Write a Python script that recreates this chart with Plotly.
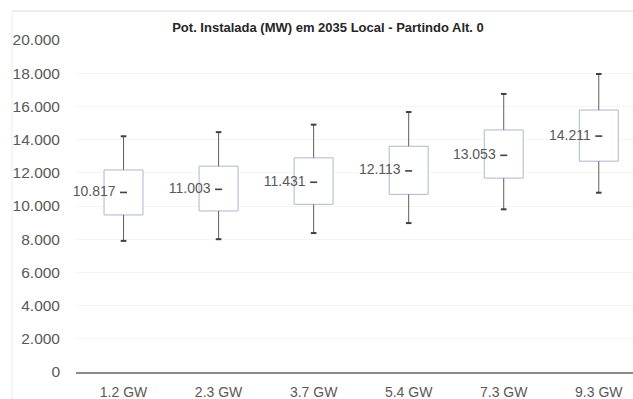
import plotly.graph_objects as go

# Scenario categories (installed capacity) and box statistics, in MW
categories = ["1.2 GW", "2.3 GW", "3.7 GW", "5.4 GW", "7.3 GW", "9.3 GW"]
lower_whisker = [7900, 8000, 8370, 8970, 9800, 10800]
q1 = [9460, 9700, 10100, 10700, 11680, 12700]
q3 = [12170, 12400, 12900, 13600, 14580, 15780]
upper_whisker = [14200, 14450, 14900, 15660, 16750, 17950]
means = [10817, 11003, 11431, 12113, 13053, 14211]

y_ticks = [0, 2000, 4000, 6000, 8000, 10000, 12000, 14000, 16000, 18000, 20000]


def fmt_pt(v):
    """Thousands separator with a dot, as in pt-BR."""
    return f"{v:,.0f}".replace(",", ".")


TEXT = "#595959"
FONT = "Liberation Sans, Arial, sans-serif"
WHISKER = "#5f5f5f"

fig = go.Figure()

# Whisker segments: q3 -> upper and q1 -> lower for every category
wx, wy = [], []
for c, lo, a, b, hi in zip(categories, lower_whisker, q1, q3, upper_whisker):
    wx += [c, c, None, c, c, None]
    wy += [b, hi, None, a, lo, None]
fig.add_trace(go.Scatter(
    x=wx, y=wy, mode="lines",
    line=dict(color=WHISKER, width=1),
    connectgaps=False, hoverinfo="skip", showlegend=False,
))

# Whisker end caps
fig.add_trace(go.Scatter(
    x=categories + categories,
    y=upper_whisker + lower_whisker,
    mode="markers",
    marker=dict(symbol="line-ew", size=4, line=dict(color="#3f3f3f", width=2)),
    hoverinfo="skip", showlegend=False,
))

# Interquartile boxes
fig.add_trace(go.Bar(
    x=categories,
    base=q1,
    y=[b - a for a, b in zip(q1, q3)],
    width=0.41,
    marker=dict(color="white", line=dict(color="#aeb7cf", width=1)),
    hoverinfo="skip", showlegend=False,
))

# Mean markers with value labels
fig.add_trace(go.Scatter(
    x=categories,
    y=means,
    mode="markers+text",
    marker=dict(symbol="line-ew", size=5, line=dict(color="#404040", width=1.6)),
    text=[fmt_pt(m) + "\u00a0" for m in means],
    textposition="middle left",
    textfont=dict(family=FONT, size=14, color=TEXT),
    cliponaxis=False,
    hoverinfo="skip", showlegend=False,
))

# Plot-area geometry in pixels, used to place the outer chart border
W, H = 633, 399
ML, MR, MT, MB = 76, 0, 40, 27
pw, ph = W - ML - MR, H - MT - MB
bx0 = (12 - ML) / pw
by1 = (H - MB - 11) / ph

fig.update_layout(
    width=W,
    height=H,
    margin=dict(l=ML, r=MR, t=MT, b=MB),
    paper_bgcolor="white",
    plot_bgcolor="white",
    title=dict(
        text="<b>Pot. Instalada (MW) em 2035 Local - Partindo Alt. 0</b>",
        x=(328 - ML) / pw, xref="paper", xanchor="center",
        y=1 - 27 / H, yanchor="middle",
        font=dict(family=FONT, size=13, color="#262626"),
    ),
    xaxis=dict(
        range=[-0.5, 5.36],
        showgrid=False,
        showline=True,
        linecolor="#8c8c8c",
        linewidth=1.5,
        ticks="",
        tickfont=dict(family=FONT, size=14, color=TEXT),
        ticklabelstandoff=6,
        zeroline=False,
    ),
    yaxis=dict(
        range=[0, 20000],
        tickvals=y_ticks,
        ticktext=[fmt_pt(v) for v in y_ticks],
        showgrid=True,
        gridcolor="#f5f5f5",
        gridwidth=1,
        showline=False,
        zeroline=False,
        ticks="",
        tickfont=dict(family=FONT, size=15.5, color=TEXT),
        ticklabelstandoff=15,
    ),
    shapes=[
        dict(type="line", xref="paper", yref="paper",
             x0=bx0, x1=1.05, y0=by1, y1=by1,
             line=dict(color="#dcdcdc", width=1)),
        dict(type="line", xref="paper", yref="paper",
             x0=bx0, x1=bx0, y0=by1, y1=-0.2,
             line=dict(color="#ececec", width=1)),
    ],
)

fig.write_html("out.html")
